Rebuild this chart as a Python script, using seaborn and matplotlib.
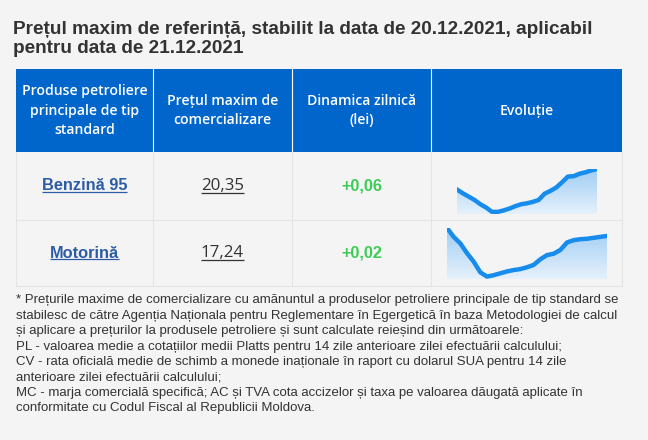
import numpy as np
import pandas as pd
import seaborn as sns
import matplotlib.pyplot as plt
from matplotlib.patches import Rectangle

# data
title_lines = ["Prețul maxim de referință, stabilit la data de 20.12.2021, aplicabil",
               "pentru data de 21.12.2021"]
headers = ["Produse petroliere\nprincipale de tip\nstandard",
           "Prețul maxim de\ncomercializare",
           "Dinamica zilnică\n(lei)",
           "Evoluție"]
products = ["Benzină 95", "Motorină"]
prices = ["20,35", "17,24"]
changes = ["+0,06", "+0,02"]
benzina_evol = [19.92, 19.84, 19.77, 19.70, 19.61, 19.54, 19.45, 19.45, 19.48, 19.52,
                19.57, 19.61, 19.63, 19.66, 19.70, 19.83, 19.89, 19.96, 20.07, 20.19,
                20.20, 20.25, 20.28, 20.32, 20.35]
motorina_evol = [17.41, 17.22, 17.08, 16.87, 16.69, 16.46, 16.37, 16.40, 16.44, 16.48,
                 16.51, 16.53, 16.57, 16.62, 16.74, 16.83, 16.86, 16.94, 17.10, 17.15,
                 17.17, 17.18, 17.20, 17.22, 17.24]
footnote = [
    "* Prețurile maxime de comercializare cu amănuntul a produselor petroliere principale de tip standard se",
    "stabilesc de către Agenția Naționala pentru Reglementare în Egergetică în baza Metodologiei de calcul",
    "și aplicare a prețurilor la produsele petroliere și sunt calculate reieșind din următoarele:",
    "PL - valoarea medie a cotațiilor medii Platts pentru 14 zile anterioare zilei efectuării calculului;",
    "CV - rata oficială medie de schimb a monede inaționale în raport cu dolarul SUA pentru 14 zile",
    "anterioare zilei efectuării calculului;",
    "MC - marja comercială specifică; AC și TVA cota accizelor și taxa pe valoarea dăugată aplicate în",
    "conformitate cu Codul Fiscal al Republicii Moldova.",
]

sns.set_theme(style="white")
plt.rcParams['font.family'] = ['Liberation Sans', 'DejaVu Sans']

BG = "#f4f4f4"
BLUE = "#0066cc"
GRID = "#e4e4e4"
LINK = "#2d5ca6"
GREEN = "#3ccc55"
TXT = "#333333"
LINE = "#178cec"

W, H = 648, 440
fig = plt.figure(figsize=(W / 100, H / 100), dpi=100, facecolor=BG)
ax = fig.add_axes([0, 0, 1, 1])
ax.set_xlim(0, W)
ax.set_ylim(H, 0)
ax.axis("off")

# title
for i, t in enumerate(title_lines):
    ax.text(13, 34 + i * 19, t, fontsize=13.65, fontweight="bold", color=TXT,
            va="baseline", ha="left")

# table geometry (pixels)
cols = [16, 153, 292, 431, 622]
rows = [69, 152, 220, 286]

ax.add_patch(Rectangle((cols[0], rows[0]), cols[-1] - cols[0], rows[1] - rows[0],
                       facecolor=BLUE, edgecolor="none"))
for c in cols[1:-1]:
    ax.plot([c, c], [rows[0], rows[1]], color="white", lw=0.8)
    ax.plot([c, c], [rows[1], rows[3]], color=GRID, lw=0.8)
for c in [cols[0], cols[-1]]:
    ax.plot([c, c], [rows[1], rows[3]], color=GRID, lw=0.8)
for r in rows[2:]:
    ax.plot([cols[0], cols[-1]], [r, r], color=GRID, lw=0.8)

for i, h in enumerate(headers):
    cx = (cols[i] + cols[i + 1]) / 2
    ax.text(cx, (rows[0] + rows[1]) / 2, h, ha="center", va="center", color="white",
            fontsize=10.1, fontweight="semibold", family=["Open Sans", "DejaVu Sans"],
            linespacing=1.5)

fig.canvas.draw()
renderer = fig.canvas.get_renderer()
inv = ax.transData.inverted()


def underlined(x, y, s, color, **kw):
    t = ax.text(x, y, s, ha="center", va="center", color=color, **kw)
    bb = t.get_window_extent(renderer)
    (x0, y0), (x1, y1) = inv.transform([[bb.x0, bb.y0], [bb.x1, bb.y1]])
    ax.plot([x0, x1], [y0 - 1, y0 - 1], color=color, lw=0.9, solid_capstyle="butt")


for i in range(2):
    cy = (rows[i + 1] + rows[i + 2]) / 2
    underlined((cols[0] + cols[1]) / 2, cy, products[i], LINK, fontsize=11.8, fontweight="bold")
    underlined((cols[1] + cols[2]) / 2, cy, prices[i], TXT, fontsize=12.2,
               family=["Open Sans", "DejaVu Sans"])
    ax.text((cols[2] + cols[3]) / 2, cy, changes[i], ha="center", va="center", color=GREEN,
            fontsize=11.7, fontweight="bold")

# footnote
for i, line in enumerate(footnote):
    ax.text(16, 303.5 + i * 15.4, line, fontsize=9.58, color=TXT, va="baseline", ha="left")

# sparklines: (left, right, top, bottom) pixels
spark_boxes = [(457, 597, 169, 214), (447, 607, 228, 279)]
grad = np.linspace(0, 1, 256).reshape(-1, 1)
cmap = sns.blend_palette(["#e6f1fb", "#9fcdf5"], as_cmap=True)

for vals, (l, r, t, b) in zip([benzina_evol, motorina_evol], spark_boxes):
    sax = fig.add_axes([l / W, 1 - b / H, (r - l) / W, (b - t) / H])
    sax.set_facecolor("none")
    df = pd.DataFrame({"x": np.arange(len(vals)), "v": vals})
    vmin, vmax = min(vals), max(vals)
    lo = vmin - (vmax - vmin) * 0.05
    poly = sax.fill_between(df["x"], df["v"], lo, color="none")
    img = sax.imshow(grad, extent=[0, len(vals) - 1, lo, vmax], origin="lower",
                     cmap=cmap, aspect="auto", zorder=1)
    img.set_clip_path(poly.get_paths()[0], transform=sax.transData)
    sns.lineplot(data=df, x="x", y="v", ax=sax, color=LINE, lw=3.2, zorder=3,
                 solid_joinstyle="round", solid_capstyle="round")
    sax.set_xlim(0, len(vals) - 1)
    sax.set_ylim(lo, vmax)
    sax.axis("off")

fig.savefig("out.png", dpi=100, facecolor=BG)
